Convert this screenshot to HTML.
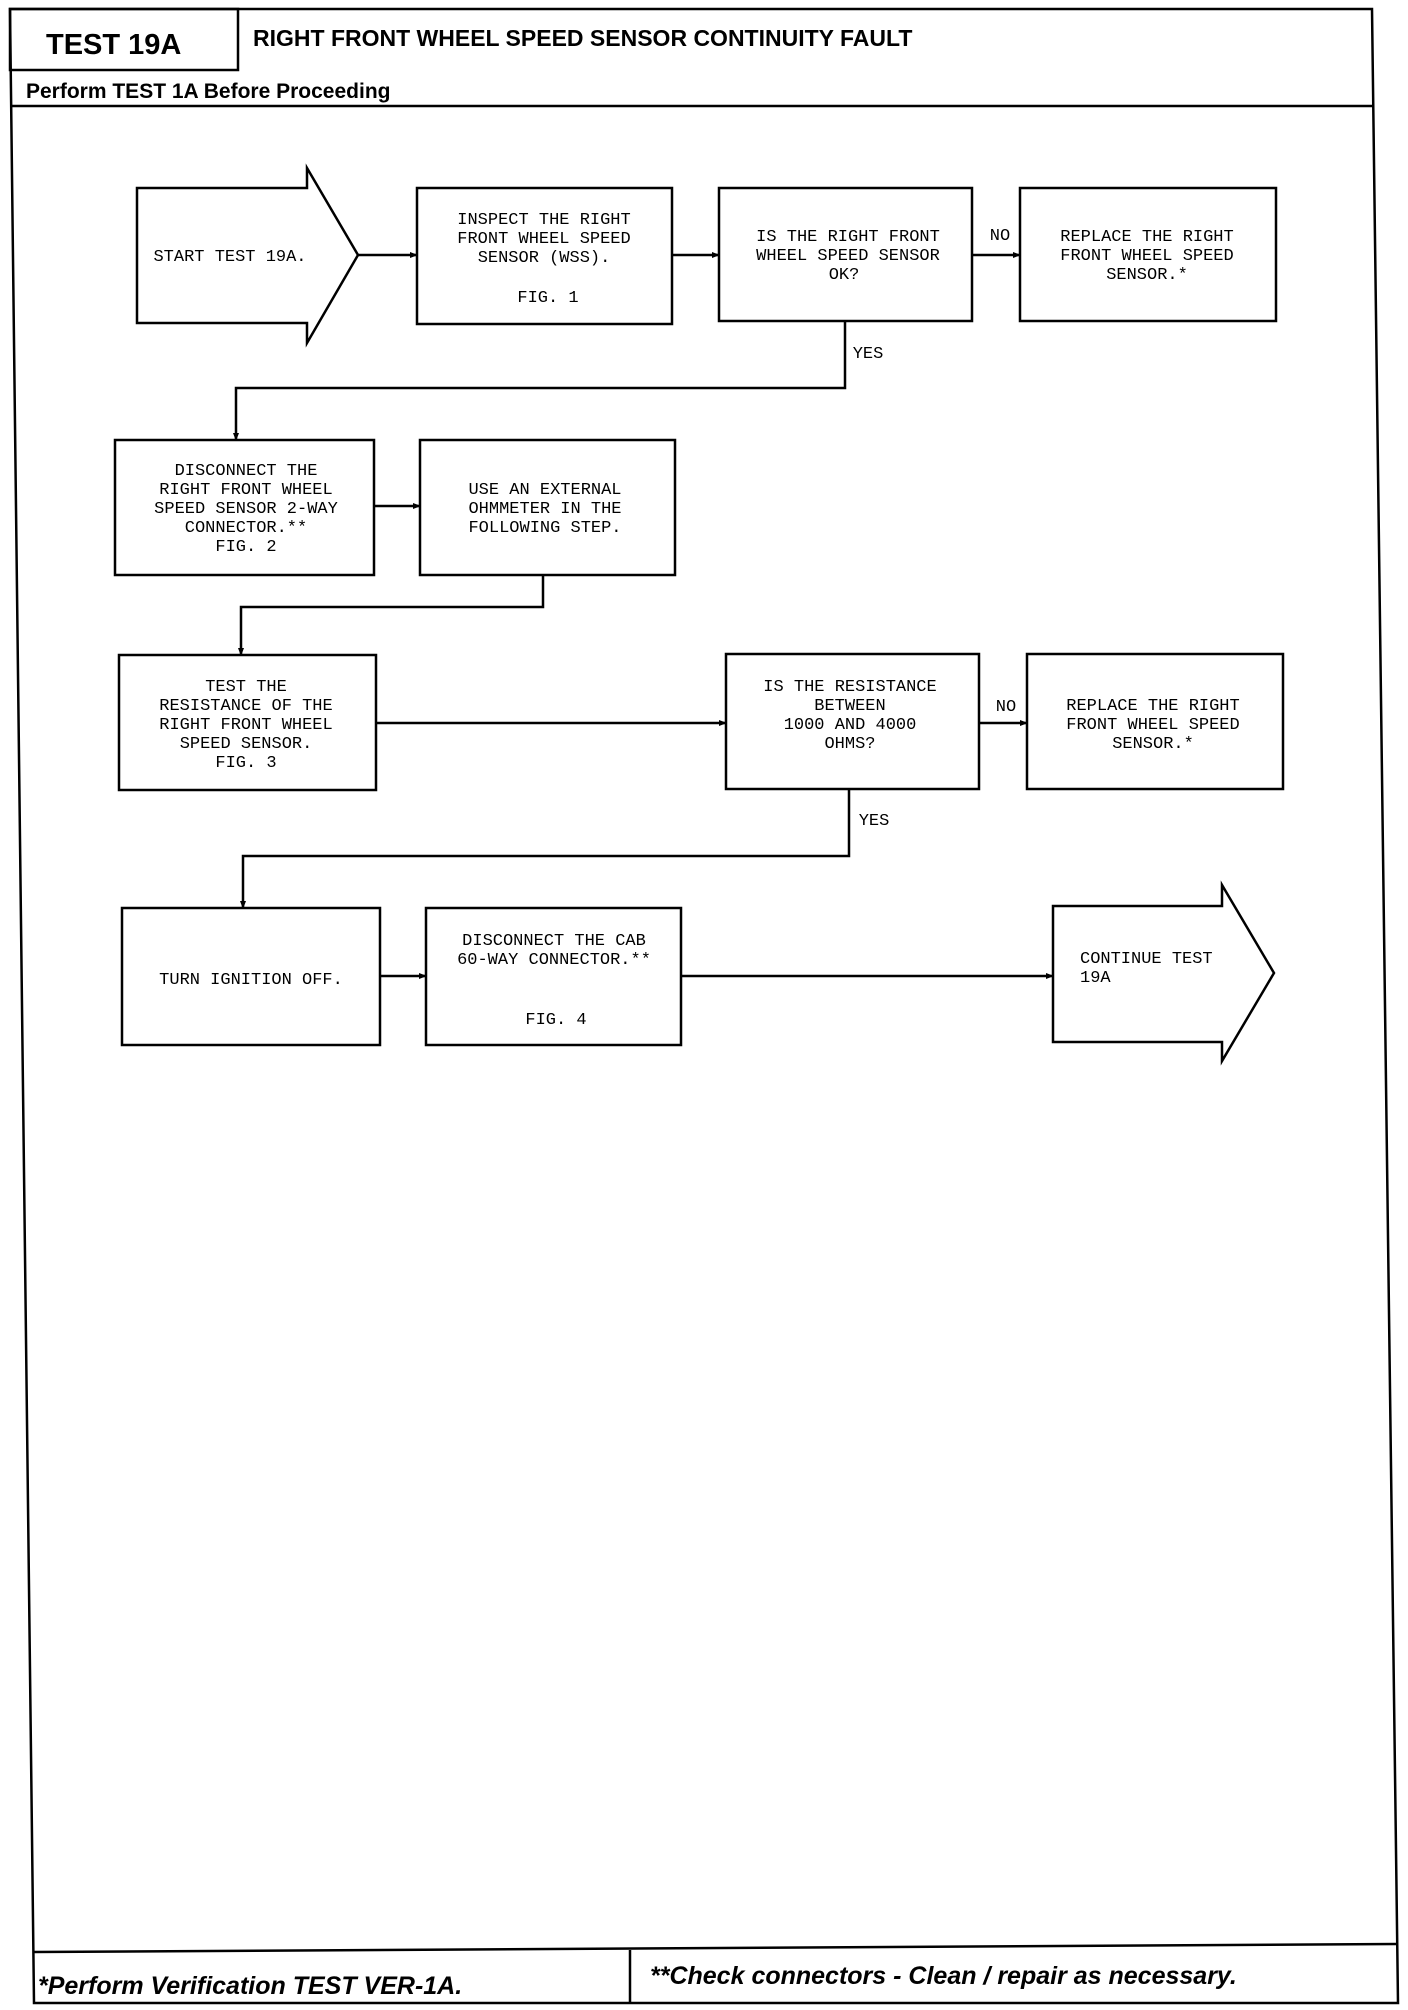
<!DOCTYPE html>
<html><head><meta charset="utf-8"><style>
html,body{margin:0;padding:0;background:#fff}
svg{display:block}
.b{font-family:"Liberation Mono",monospace;font-size:17px;fill:#000}
.h{font-family:"Liberation Sans",sans-serif;font-weight:bold;fill:#000}
</style></head><body>
<svg width="1408" height="2010" viewBox="0 0 1408 2010" xmlns="http://www.w3.org/2000/svg">
<defs><marker id="a" markerWidth="8" markerHeight="8" refX="7" refY="4" orient="auto" markerUnits="userSpaceOnUse"><path d="M0,1 L8,4 L0,7 z" fill="#000"/></marker></defs>
<g fill="none" stroke="#000" stroke-width="2.5">
<path d="M10,9 L1372,9 L1398,2003 L34,2003 Z"/>
<rect x="10" y="9" width="228" height="61"/>
<line x1="10" y1="106" x2="1374" y2="106"/>
<line x1="33" y1="1952" x2="1397" y2="1944"/>
<line x1="630" y1="1950" x2="630" y2="2003"/>
<!-- row1 -->
<path d="M137,188 L307,188 L307,168 L358,255 L307,343 L307,323 L137,323 Z"/>
<rect x="417" y="188" width="255" height="136"/>
<rect x="719" y="188" width="253" height="133"/>
<rect x="1020" y="188" width="256" height="133"/>
<rect x="115" y="440" width="259" height="135"/>
<rect x="420" y="440" width="255" height="135"/>
<rect x="119" y="655" width="257" height="135"/>
<rect x="726" y="654" width="253" height="135"/>
<rect x="1027" y="654" width="256" height="135"/>
<rect x="122" y="908" width="258" height="137"/>
<rect x="426" y="908" width="255" height="137"/>
<path d="M1053,906 L1222,906 L1222,885 L1274,973 L1222,1061 L1222,1042 L1053,1042 Z"/>
</g>
<g fill="none" stroke="#000" stroke-width="2.5">
<line x1="358" y1="255" x2="417" y2="255" marker-end="url(#a)"/>
<line x1="672" y1="255" x2="719" y2="255" marker-end="url(#a)"/>
<line x1="972" y1="255" x2="1020" y2="255" marker-end="url(#a)"/>
<polyline points="845,321 845,388 236,388 236,440" marker-end="url(#a)"/>
<line x1="374" y1="506" x2="420" y2="506" marker-end="url(#a)"/>
<polyline points="543,575 543,607 241,607 241,655" marker-end="url(#a)"/>
<line x1="376" y1="723" x2="726" y2="723" marker-end="url(#a)"/>
<line x1="979" y1="723" x2="1027" y2="723" marker-end="url(#a)"/>
<polyline points="849,789 849,856 243,856 243,908" marker-end="url(#a)"/>
<line x1="380" y1="976" x2="426" y2="976" marker-end="url(#a)"/>
<line x1="681" y1="976" x2="1053" y2="976" marker-end="url(#a)"/>
</g>
<text class="h" x="46" y="54" font-size="29">TEST 19A</text>
<text class="h" x="253" y="46" font-size="23">RIGHT FRONT WHEEL SPEED SENSOR CONTINUITY FAULT</text>
<text class="h" x="26" y="98" font-size="21">Perform TEST 1A Before Proceeding</text>
<text class="h" x="38" y="1994" font-size="25" font-style="italic">*Perform Verification TEST VER-1A.</text>
<text class="h" x="650" y="1984" font-size="25" font-style="italic">**Check connectors - Clean / repair as necessary.</text>
<g class="b" text-anchor="middle">
<text x="230" y="261">START TEST 19A.</text>
<text x="544" y="224">INSPECT THE RIGHT</text><text x="544" y="243">FRONT WHEEL SPEED</text><text x="544" y="262">SENSOR (WSS).</text><text x="548" y="302">FIG. 1</text>
<text x="848" y="241">IS THE RIGHT FRONT</text><text x="848" y="260">WHEEL SPEED SENSOR</text><text x="844" y="279">OK?</text>
<text x="1147" y="241">REPLACE THE RIGHT</text><text x="1147" y="260">FRONT WHEEL SPEED</text><text x="1147" y="279">SENSOR.*</text>
<text x="1000" y="240">NO</text><text x="868" y="358">YES</text>
<text x="246" y="475">DISCONNECT THE</text><text x="246" y="494">RIGHT FRONT WHEEL</text><text x="246" y="513">SPEED SENSOR 2-WAY</text><text x="246" y="532">CONNECTOR.**</text><text x="246" y="551">FIG. 2</text>
<text x="545" y="494">USE AN EXTERNAL</text><text x="545" y="513">OHMMETER IN THE</text><text x="545" y="532">FOLLOWING STEP.</text>
<text x="246" y="691">TEST THE</text><text x="246" y="710">RESISTANCE OF THE</text><text x="246" y="729">RIGHT FRONT WHEEL</text><text x="246" y="748">SPEED SENSOR.</text><text x="246" y="767">FIG. 3</text>
<text x="850" y="691">IS THE RESISTANCE</text><text x="850" y="710">BETWEEN</text><text x="850" y="729">1000 AND 4000</text><text x="850" y="748">OHMS?</text>
<text x="1153" y="710">REPLACE THE RIGHT</text><text x="1153" y="729">FRONT WHEEL SPEED</text><text x="1153" y="748">SENSOR.*</text>
<text x="1006" y="711">NO</text><text x="874" y="825">YES</text>
<text x="251" y="984">TURN IGNITION OFF.</text>
<text x="554" y="945">DISCONNECT THE CAB</text><text x="554" y="964">60-WAY CONNECTOR.**</text><text x="556" y="1024">FIG. 4</text>
</g>
<g class="b"><text x="1080" y="963">CONTINUE TEST</text><text x="1080" y="982">19A</text></g>
</svg>
</body></html>
